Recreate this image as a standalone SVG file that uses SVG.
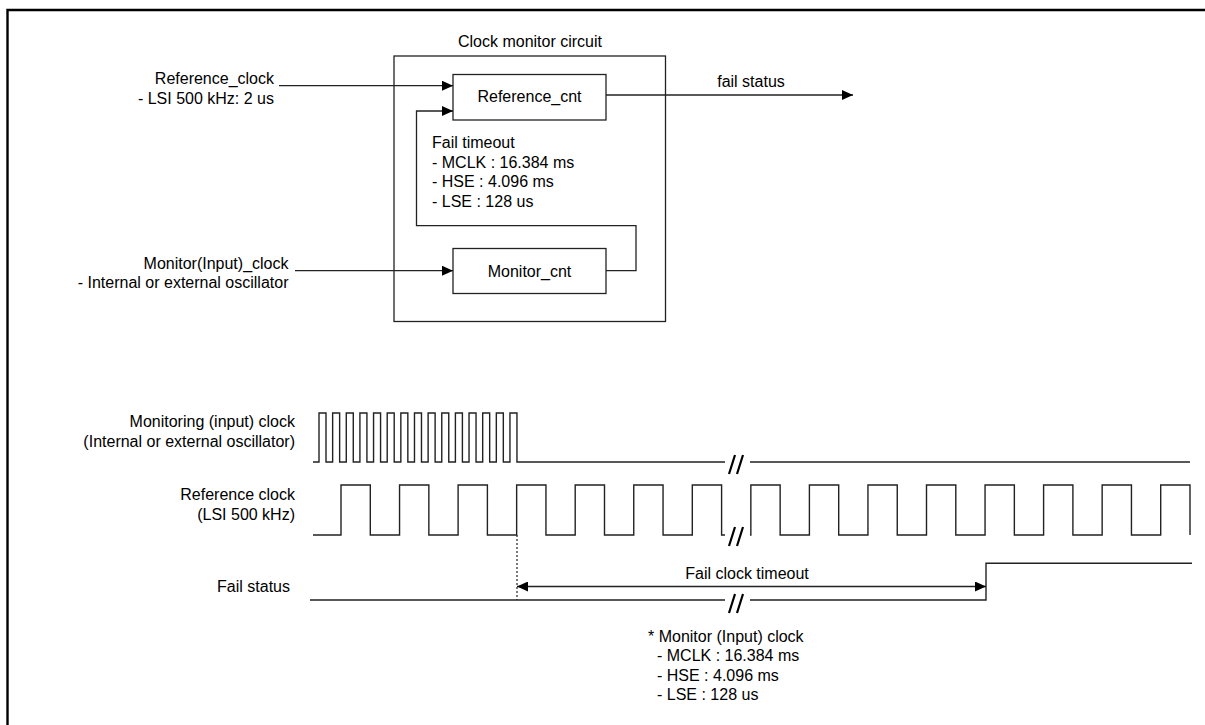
<svg xmlns="http://www.w3.org/2000/svg" width="1205" height="725" viewBox="0 0 1205 725">
<style>
text{font-family:"Liberation Sans",Arial,sans-serif;font-size:16px;fill:#000}
.ln{fill:none;stroke:#222;stroke-width:1.3}
.box{fill:#fff;stroke:#222;stroke-width:1.3}
.wave{fill:none;stroke:#222;stroke-width:1.4}
.brk{stroke:#000;stroke-width:2.2;fill:none}
.gap{fill:#fff;stroke:none}
.end{text-anchor:end}
.mid{text-anchor:middle}
</style>
<defs>
<marker id="arr" markerUnits="userSpaceOnUse" markerWidth="11" markerHeight="10" refX="11" refY="5" orient="auto-start-reverse">
<path d="M0,0 L11,5 L0,10 z" fill="#000"/>
</marker>
</defs>
<rect width="1205" height="725" fill="#fff"/>
<path d="M7.5,725 V10 H1205" fill="none" stroke="#000" stroke-width="2.4"/>

<g id="clock-monitor-circuit">
<rect class="box" x="394" y="56" width="271.5" height="265.5"/>
<text class="mid" x="530" y="47">Clock monitor circuit</text>
</g>
<g id="reference-cnt">
<rect class="box" x="453" y="74.5" width="153" height="45.5"/>
<text class="mid" x="529.5" y="102">Reference_cnt</text>
</g>
<g id="monitor-cnt">
<rect class="box" x="453" y="248.5" width="153" height="45"/>
<text class="mid" x="529.5" y="276.5">Monitor_cnt</text>
</g>
<g id="reference-clock-label">
<text class="end" x="274" y="83.5">Reference_clock</text>
<text class="end" x="274" y="103.5">- LSI 500 kHz: 2 us</text>
</g>
<g id="monitor-clock-label">
<text class="end" x="288.5" y="268.5">Monitor(Input)_clock</text>
<text class="end" x="288.5" y="287.5">- Internal or external oscillator</text>
</g>
<g id="fail-timeout-label">
<text x="432" y="148">Fail timeout</text>
<text x="432" y="167.5">- MCLK : 16.384 ms</text>
<text x="432" y="187">- HSE : 4.096 ms</text>
<text x="432" y="206.5">- LSE : 128 us</text>
</g>
<g id="fail-status-label">
<text class="mid" x="751" y="86.5">fail status</text>
</g>

<g id="connectors">
<path class="ln" d="M279,85.7 H453" marker-end="url(#arr)"/>
<path class="ln" d="M295,270.7 H453" marker-end="url(#arr)"/>
<path class="ln" d="M606,270.7 H636 V225.7 H416.5 V111 H453" marker-end="url(#arr)"/>
<path class="ln" d="M606,95 H853" marker-end="url(#arr)"/>
</g>

<g id="timing-labels">
<text class="end" x="295" y="426.5">Monitoring (input) clock</text>
<text class="end" x="295" y="446.5">(Internal or external oscillator)</text>
<text class="end" x="295" y="499.5">Reference clock</text>
<text class="end" x="295" y="519.5">(LSI 500 kHz)</text>
<text class="end" x="290" y="592">Fail status</text>
</g>

<g id="monitoring-clock-wave">
<path class="wave" d="M313,462 H319 V413 H326 V462 H332.64 V413 H339.64 V462 H346.28 V413 H353.28 V462 H359.92 V413 H366.92 V462 H373.56 V413 H380.56 V462 H387.2 V413 H394.2 V462 H400.84 V413 H407.84 V462 H414.48 V413 H421.48 V462 H428.12 V413 H435.12 V462 H441.76 V413 H448.76 V462 H455.4 V413 H462.4 V462 H469.04 V413 H476.04 V462 H482.68 V413 H489.68 V462 H496.32 V413 H503.32 V462 H509.96 V413 H516.96 V462 H1190"/>
</g>

<g id="reference-clock-wave">
<path class="wave" d="M313,535 H341 V485 H370.3 V535 H399.55 V485 H428.85 V535 H458.1 V485 H487.4 V535 H516.65 V485 H545.95 V535 H575.2 V485 H604.5 V535 H633.75 V485 H663.05 V535 H692.3 V485 H721.6 V535 H750.85 V485 H780.15 V535 H809.4 V485 H838.7 V535 H867.95 V485 H897.25 V535 H926.5 V485 H955.8 V535 H985.05 V485 H1014.35 V535 H1043.6 V485 H1072.9 V535 H1102.15 V485 H1131.45 V535 H1160.7 V485 H1190 V535"/>
</g>

<g id="fail-status-wave">
<path class="wave" d="M310,600 H986 V563.3 H1192"/>
<path d="M517,535 V600" fill="none" stroke="#222" stroke-width="1.2" stroke-dasharray="2,2"/>
<path class="ln" d="M517,586.5 H986" marker-start="url(#arr)" marker-end="url(#arr)"/>
<text class="mid" x="747" y="578.5">Fail clock timeout</text>
</g>

<g id="breaks">
<rect class="gap" x="725" y="459" width="25" height="6"/>
<path class="brk" d="M729,474 L735,455 M737,474 L743,455"/>
<rect class="gap" x="725" y="532" width="25" height="6"/>
<path class="brk" d="M729,546 L735,527 M737,546 L743,527"/>
<rect class="gap" x="725" y="597" width="25" height="6"/>
<path class="brk" d="M729,613 L735,594 M737,613 L743,594"/>
</g>

<g id="monitor-clock-note">
<text x="648" y="641.5">* Monitor (Input) clock</text>
<text x="657" y="661">- MCLK : 16.384 ms</text>
<text x="657" y="680.5">- HSE : 4.096 ms</text>
<text x="657" y="699.5">- LSE : 128 us</text>
</g>
</svg>
